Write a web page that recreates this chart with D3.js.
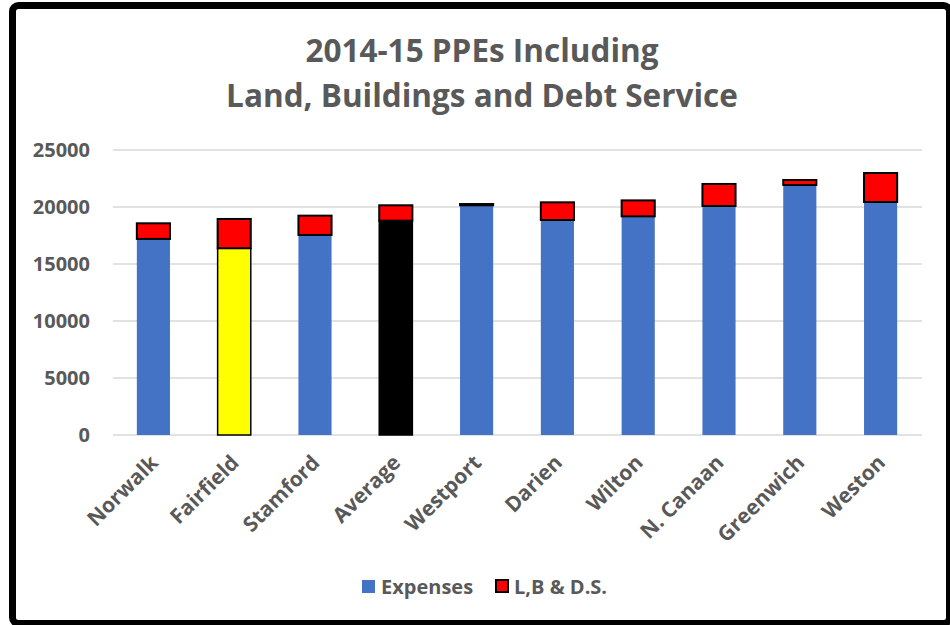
<!doctype html>
<html>
<head>
<meta charset="utf-8">
<title>2014-15 PPEs</title>
<script src="https://cdnjs.cloudflare.com/ajax/libs/d3/7.8.5/d3.min.js"></script>
<style>
  body { margin: 0; background: #fff; }
  text { font-family: "Open Sans", sans-serif; font-weight: bold; fill: #595959; }
</style>
</head>
<body>
<div id="chart"></div>
<script>
// data
var towns = ["Norwalk", "Fairfield", "Stamford", "Average", "Westport",
             "Darien", "Wilton", "N. Canaan", "Greenwich", "Weston"];
var expenses = [17200, 16380, 17550, 18800, 20150, 18860, 19180, 20090, 21930, 20440];
var lbds     = [1370, 2570, 1690, 1350, 110, 1550, 1400, 1930, 440, 2540];
var yTicks   = [0, 5000, 10000, 15000, 20000, 25000];
var seriesNames = ["Expenses", "L,B & D.S."];

var W = 950, H = 625;
var margin = {top: 150, right: 28, bottom: 190, left: 113};
var blue = "#4472c4", red = "#ff0000";
var special = {"Fairfield": "#ffff00", "Average": "#000000"};

var svg = d3.select("#chart").append("svg")
    .attr("width", W).attr("height", H);

// outer frame
svg.append("rect")
    .attr("x", 12.5).attr("y", 5.5)
    .attr("width", 937).attr("height", 618)
    .attr("rx", 6)
    .attr("fill", "none")
    .attr("stroke", "#000")
    .attr("stroke-width", 7);

var x = d3.scaleBand()
    .domain(towns)
    .range([margin.left, W - margin.right - 1])
    .paddingInner(0.59)
    .paddingOuter(0.295);

var y = d3.scaleLinear()
    .domain([0, 25000])
    .range([H - margin.bottom, margin.top]);

// title
var title = svg.append("text")
    .attr("text-anchor", "middle")
    .style("font-size", "31.5px");
title.append("tspan").attr("x", 482).attr("y", 62).text("2014-15 PPEs Including");
title.append("tspan").attr("x", 482).attr("y", 107).text("Land, Buildings and Debt Service");

// gridlines
svg.append("g")
  .selectAll("line")
  .data(yTicks)
  .join("line")
    .attr("x1", margin.left).attr("x2", W - margin.right)
    .attr("y1", d => y(d)).attr("y2", d => y(d))
    .attr("stroke", "#d9d9d9")
    .attr("stroke-width", 1.5);

// y axis labels
svg.append("g")
  .selectAll("text")
  .data(yTicks)
  .join("text")
    .attr("x", 90)
    .attr("y", d => y(d))
    .attr("dy", "0.36em")
    .attr("text-anchor", "end")
    .style("font-size", "20px")
    .text(d => d);

// bars
var rows = towns.map((t, i) => ({town: t, exp: expenses[i], extra: lbds[i]}));

svg.append("g")
  .selectAll("rect")
  .data(rows)
  .join("rect")
    .attr("x", d => x(d.town))
    .attr("width", x.bandwidth())
    .attr("y", d => y(d.exp))
    .attr("height", d => y(0) - y(d.exp))
    .attr("fill", d => special[d.town] || blue)
    .attr("stroke", d => special[d.town] ? "#000" : "none")
    .attr("stroke-width", 1.5);

svg.append("g")
  .selectAll("rect")
  .data(rows)
  .join("rect")
    .attr("x", d => x(d.town))
    .attr("width", x.bandwidth())
    .attr("y", d => y(d.exp + d.extra))
    .attr("height", d => y(d.exp) - y(d.exp + d.extra))
    .attr("fill", red)
    .attr("stroke", "#000")
    .attr("stroke-width", 2);

// x labels
svg.append("g")
  .selectAll("text")
  .data(towns)
  .join("text")
    .attr("text-anchor", "end")
    .attr("transform", d => "translate(" + (x(d) + x.bandwidth() / 2 + 6) + "," + (y(0) + 29) + ") rotate(-45)")
    .style("font-size", "21px")
    .text(d => d);

// legend
var legend = svg.append("g");
legend.append("rect")
    .attr("x", 362).attr("y", 580).attr("width", 13).attr("height", 13)
    .attr("fill", blue);
legend.append("text")
    .attr("x", 381).attr("y", 594)
    .style("font-size", "20px")
    .text(seriesNames[0]);
legend.append("rect")
    .attr("x", 496).attr("y", 580).attr("width", 12).attr("height", 12)
    .attr("fill", red).attr("stroke", "#000").attr("stroke-width", 2);
legend.append("text")
    .attr("x", 514).attr("y", 594)
    .style("font-size", "20px")
    .text(seriesNames[1]);
</script>
</body>
</html>
